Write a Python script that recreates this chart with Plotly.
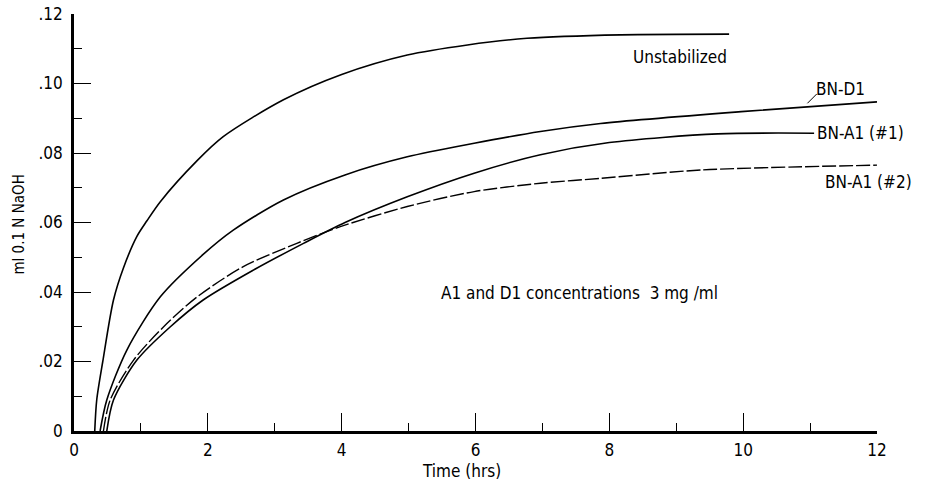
import plotly.graph_objects as go

# Data (Time in hrs, ml 0.1 N NaOH)
unstab_x = [0.31, 0.34, 0.43, 0.59, 0.74, 0.94, 1.09, 1.29, 1.84, 2.23, 3.13, 4.0, 4.98, 5.88, 6.77, 8.17, 9.79]
unstab_y = [0.0, 0.009, 0.020, 0.0377, 0.0470, 0.0560, 0.0605, 0.0660, 0.0778, 0.0847, 0.0953, 0.1026, 0.1082, 0.1111, 0.1130, 0.1140, 0.1142]

d1_x = [0.39, 0.49, 0.79, 1.29, 1.93, 2.38, 3.13, 4.05, 4.98, 5.98, 6.97, 7.87, 9.97, 12.0]
d1_y = [0.0, 0.0089, 0.0233, 0.0386, 0.0508, 0.0578, 0.0665, 0.0737, 0.0789, 0.0828, 0.0862, 0.0885, 0.0919, 0.0947]

a1_1_x = [0.49, 0.59, 0.94, 1.44, 1.93, 2.68, 3.43, 4.05, 4.98, 5.98, 6.97, 8.0, 9.62, 11.06]
a1_1_y = [0.0, 0.0089, 0.0204, 0.0300, 0.0377, 0.0463, 0.0540, 0.0600, 0.0674, 0.0742, 0.0795, 0.0830, 0.0855, 0.0857]

a1_2_x = [0.44, 0.54, 0.89, 1.34, 1.84, 2.53, 3.33, 3.98, 4.98, 5.98, 6.97, 7.87, 9.37, 12.0]
a1_2_y = [0.0, 0.0089, 0.0204, 0.0300, 0.0386, 0.0473, 0.0540, 0.0588, 0.0646, 0.0689, 0.0713, 0.0727, 0.0751, 0.0765]

x_ticks = [0, 2, 4, 6, 8, 10, 12]
x_ticktext = ["0", "2", "4", "6", "8", "10", "12"]
y_ticks = [0, 0.02, 0.04, 0.06, 0.08, 0.10, 0.12]
y_ticktext = ["0", ".02", ".04", ".06", ".08", ".10", ".12"]

FONT = "Liberation Sans Narrow, DejaVu Sans Condensed, Liberation Sans, sans-serif"

fig = go.Figure()
line = dict(color="black", width=1.6, shape="spline", smoothing=0.8)
fig.add_trace(go.Scatter(x=unstab_x, y=unstab_y, mode="lines", line=line, name="Unstabilized"))
fig.add_trace(go.Scatter(x=d1_x, y=d1_y, mode="lines", line=line, name="BN-D1"))
fig.add_trace(go.Scatter(x=a1_1_x, y=a1_1_y, mode="lines", line=line, name="BN-A1 (#1)"))
fig.add_trace(go.Scatter(x=a1_2_x, y=a1_2_y, mode="lines",
                         line=dict(color="black", width=1.4, shape="spline", smoothing=0.8, dash="14px,3px"),
                         name="BN-A1 (#2)"))

tfont = dict(family=FONT, size=17, color="black")
ann = [
    dict(x=9.79, y=0.1077, text="Unstabilized", xanchor="right", yanchor="middle"),
    dict(x=11.06, y=0.0985, text="BN-D1", xanchor="left", yanchor="middle"),
    dict(x=11.08, y=0.0858, text="BN-A1 (#1)", xanchor="left", yanchor="middle"),
    dict(x=11.2, y=0.0717, text="BN-A1 (#2)", xanchor="left", yanchor="middle"),
    dict(x=7.56, y=0.0397, text="A1 and D1 concentrations  3 mg /ml", xanchor="center", yanchor="middle"),
]
for a in ann:
    fig.add_annotation(xref="x", yref="y", showarrow=False, font=tfont, **a)

# leader line for BN-D1
fig.add_shape(type="line", xref="x", yref="y", x0=10.96, y0=0.0943, x1=11.10, y1=0.0970,
              line=dict(color="black", width=1))

fig.add_annotation(xref="paper", yref="paper", x=-0.069, y=0.494, text="ml 0.1 N NaOH",
                   textangle=-90, showarrow=False, xanchor="center", yanchor="middle",
                   font=dict(family=FONT, size=15, color="black"))
fig.add_annotation(xref="paper", yref="paper", x=0.483, y=-0.097, text="Time (hrs)",
                   showarrow=False, xanchor="center", yanchor="middle",
                   font=dict(family=FONT, size=17, color="black"))

fig.update_xaxes(range=[0, 12], tickvals=x_ticks, ticktext=x_ticktext, ticks="inside", ticklen=18,
                 tickwidth=1.3, tickcolor="black", showline=True, linecolor="black", linewidth=2.5,
                 showgrid=False, zeroline=False, ticklabelstandoff=2, automargin=False,
                 tickfont=dict(family=FONT, size=17, color="black"),
                 minor=dict(ticks="inside", ticklen=8, tickwidth=1.2, tickcolor="black", dtick=1, tick0=0, showgrid=False))
fig.update_yaxes(range=[0, 0.12], tickvals=y_ticks, ticktext=y_ticktext, ticks="inside", ticklen=17,
                 tickwidth=1.3, tickcolor="black", showline=True, linecolor="black", linewidth=2.5,
                 showgrid=False, zeroline=False, ticklabelstandoff=5, automargin=False,
                 tickfont=dict(family=FONT, size=17, color="black"),
                 minor=dict(ticks="inside", ticklen=8, tickwidth=1.2, tickcolor="black", dtick=0.01, tick0=0, showgrid=False))

fig.update_layout(width=927, height=483, margin=dict(l=74, r=50, t=14, b=52),
                  paper_bgcolor="white", plot_bgcolor="white", showlegend=False)

fig.write_html("out.html", config={"displayModeBar": False},
               post_script="document.body.style.margin='0';document.body.style.padding='0';")
